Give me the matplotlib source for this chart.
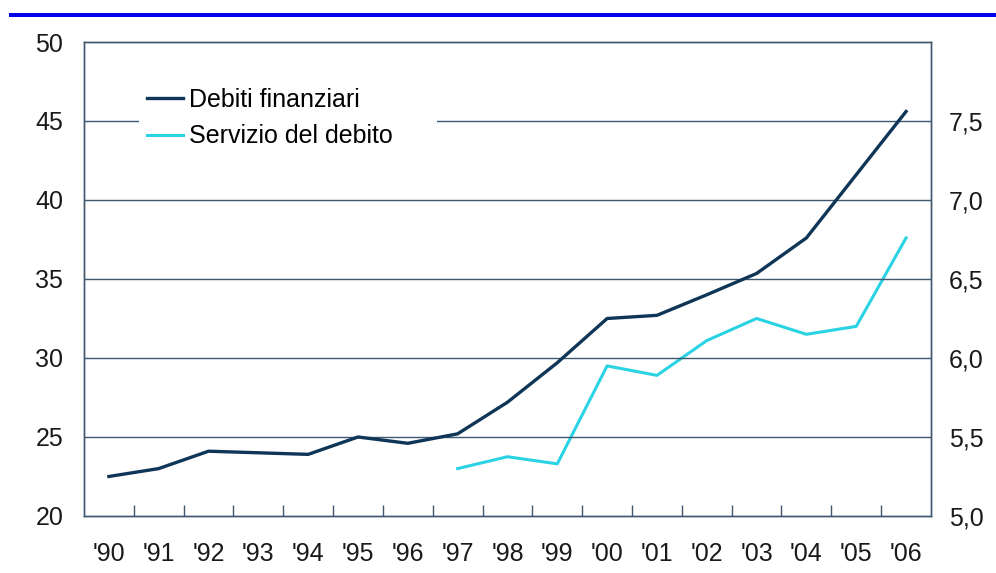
import matplotlib.pyplot as plt
from matplotlib.patches import Rectangle
from matplotlib.ticker import FixedLocator, FuncFormatter

plt.rcParams['font.family'] = ['Liberation Sans', 'DejaVu Sans']

anni = ["'90", "'91", "'92", "'93", "'94", "'95", "'96", "'97", "'98",
        "'99", "'00", "'01", "'02", "'03", "'04", "'05", "'06"]
debiti = [22.5, 23.0, 24.1, 24.0, 23.9, 25.0, 24.6, 25.2, 27.2,
          29.7, 32.5, 32.7, 34.0, 35.35, 37.6, 41.6, 45.6]
# servizio del debito parte dal '97
servizio = [5.30, 5.375, 5.33, 5.95, 5.89, 6.11, 6.25, 6.15, 6.20, 6.76]

scuro = '#0f3557'
chiaro = '#2ad3e3'
griglia = '#3f5870'

fig = plt.figure(figsize=(9.96, 5.73), dpi=100)
ax = fig.add_axes([0.0843, 0.0995, 0.8504, 0.8272])
ax2 = ax.twinx()

x = list(range(len(anni)))
x_serv = list(range(len(anni) - len(servizio), len(anni)))

l1, = ax.plot(x, debiti, color=scuro, lw=2.4, zorder=3,
              solid_joinstyle='round', label='Debiti finanziari')
l2, = ax2.plot(x_serv, servizio, color=chiaro, lw=2.2, zorder=3,
               solid_joinstyle='round', label='Servizio del debito')

ax.set_xlim(-0.5, len(anni) - 0.5)
ax.set_ylim(20, 50)
ax2.set_ylim(5.0, 8.0)

ax.set_yticks([20, 25, 30, 35, 40, 45, 50])
ax2.set_yticks([5.0, 5.5, 6.0, 6.5, 7.0, 7.5])
ax2.yaxis.set_major_formatter(FuncFormatter(lambda v, p: f'{v:.1f}'.replace('.', ',')))

for a in (ax, ax2):
    a.tick_params(axis='y', length=0, labelsize=18, colors='#1a1a1a')
    for s in a.spines.values():
        s.set_color(griglia)
        s.set_linewidth(1.0)
ax.tick_params(axis='y', pad=15)
ax2.tick_params(axis='y', pad=13)

# tacche tra gli anni, etichette al centro
ax.xaxis.set_major_locator(FixedLocator([i + 0.5 for i in range(len(anni) - 1)]))
ax.xaxis.set_minor_locator(FixedLocator(x))
ax.set_xticklabels([], minor=False)
ax.set_xticklabels(anni, minor=True)
ax.tick_params(axis='x', which='major', direction='in', length=8, width=1, color=griglia)
ax.tick_params(axis='x', which='minor', length=0, pad=19, labelsize=18, labelcolor='#1a1a1a')

for v in [25, 30, 35, 40, 45]:
    ax.axhline(v, color=griglia, lw=1.0, zorder=1)

# riquadro bianco della legenda sopra la griglia
ax.add_patch(Rectangle((0.065, 0.772), 0.352, 0.152, transform=ax.transAxes,
                       facecolor='white', edgecolor='none', zorder=2))

leg = ax.legend(handles=[l1, l2], loc='upper left', bbox_to_anchor=(0.061, 0.927),
                frameon=False, fontsize=18, handlelength=1.45, handletextpad=0.25,
                labelspacing=0.5, borderpad=0.45, borderaxespad=0)
leg.set_zorder(5)
ax.set_zorder(ax2.get_zorder() + 1)
ax.patch.set_visible(False)

# barra blu in alto
fig.add_artist(Rectangle((0.009, 0.9705), 0.991, 0.0075, transform=fig.transFigure,
                         color='#0000f0', lw=0))

fig.savefig('out.png', dpi=100)
